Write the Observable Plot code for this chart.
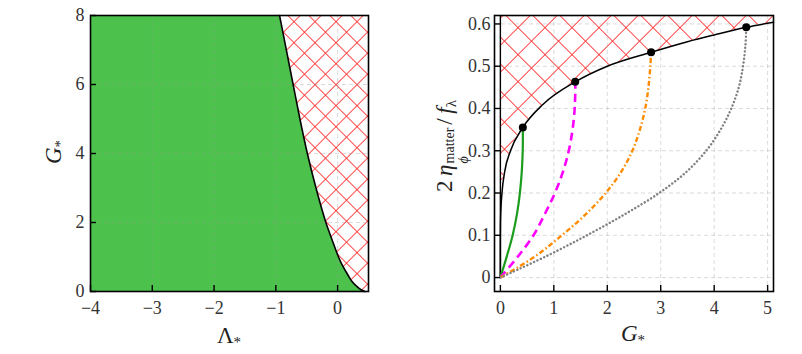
<!DOCTYPE html>
<html>
<head>
<meta charset="utf-8">
<script src="https://cdn.jsdelivr.net/npm/d3@7"></script>
<script src="https://cdn.jsdelivr.net/npm/@observablehq/plot@0.6"></script>
<style>
  body { margin: 0; background: #fff; }
  #wrap { position: relative; width: 802px; height: 354px; overflow: hidden; font-family: "Liberation Serif", serif; }
  .panel { position: absolute; top: 0; }
  .lab { position: absolute; font-family: "Liberation Serif", serif; font-size: 23px; color: #222; white-space: nowrap; line-height: 1; }
  .lab sub { font-size: 15px; vertical-align: -4px; }
  .ss { display: inline-flex; flex-direction: column; align-items: flex-start; font-size: 14px; line-height: 1; vertical-align: -2px; margin-left: 1px; margin-right: 3px; }
</style>
</head>
<body>
<div id="wrap">
  <div id="p1" class="panel" style="left:0px"></div>
  <div id="p2" class="panel" style="left:410px"></div>
  <div class="lab" style="left:55px;top:152px;transform:translate(-50%,-50%) rotate(-90deg)"><i>G</i><sub>*</sub></div>
  <div class="lab" style="left:229px;top:337px;transform:translate(-50%,-50%)">Λ<sub>*</sub></div>
  <div class="lab" style="left:633px;top:335px;transform:translate(-50%,-50%)"><i>G</i><sub>*</sub></div>
  <div class="lab" style="left:452px;top:146px;transform:translate(-50%,-50%) rotate(-90deg)">2&thinsp;<i>η</i><span class="ss"><span>matter</span><span style="font-style:italic">ϕ</span></span>/&thinsp;<i>f</i><sub>λ</sub></div>
</div>
<script>
// ---------- Left panel data ----------
const leftG      = [0, 0.05, 0.15, 0.3, 0.5, 0.75, 1, 1.5, 2, 3, 4, 5, 6, 7, 8];
const leftLambda = [0.44, 0.38, 0.31, 0.23, 0.16, 0.08, 0.014, -0.09, -0.19, -0.35, -0.49, -0.61, -0.72, -0.83, -0.94];
const leftXDomain = [-4, 0.5];
const leftYDomain = [0, 8];
const leftXTicks = [-4, -3, -2, -1, 0];
const leftYTicks = [0, 2, 4, 6, 8];
const leftXGrid = [-3, -2, -1, 0];
const leftYGrid = [2, 4, 6];

// ---------- Right panel data ----------
const boundG   = [0, 0.0005, 0.003, 0.01, 0.03, 0.08, 0.19, 0.42, 0.8, 1.4, 2.0, 2.82, 3.5, 4.0, 4.6, 5.11];
const boundEta = [0, 0.09, 0.13, 0.16, 0.2, 0.25, 0.3, 0.355, 0.41, 0.463, 0.5, 0.533, 0.558, 0.574, 0.592, 0.604];

const greenG   = [0, 0.12, 0.23, 0.31, 0.365, 0.4, 0.418, 0.42];
const greenEta = [0, 0.05, 0.1, 0.15, 0.2, 0.25, 0.3, 0.355];

const magentaG   = [0, 0.33, 0.62, 0.83, 1.02, 1.17, 1.28, 1.35, 1.39, 1.402, 1.4];
const magentaEta = [0, 0.05, 0.1, 0.15, 0.2, 0.25, 0.3, 0.35, 0.4, 0.45, 0.463];

const orangeG   = [0, 0.65, 1.15, 1.6, 1.97, 2.26, 2.47, 2.61, 2.71, 2.77, 2.805, 2.82];
const orangeEta = [0, 0.05, 0.1, 0.15, 0.2, 0.25, 0.3, 0.35, 0.4, 0.45, 0.5, 0.533];

const grayG   = [0, 0.85, 1.62, 2.33, 2.97, 3.48, 3.85, 4.12, 4.32, 4.46, 4.54, 4.585, 4.6];
const grayEta = [0, 0.05, 0.1, 0.15, 0.2, 0.25, 0.3, 0.35, 0.4, 0.45, 0.5, 0.55, 0.592];

const endG   = [0.42, 1.4, 2.82, 4.6];
const endEta = [0.355, 0.463, 0.533, 0.592];

const rightXDomain = [-0.11, 5.11];
const rightYDomain = [-0.033, 0.62];
const rightXTicks = [0, 1, 2, 3, 4, 5];
const rightYTicks = [0, 0.1, 0.2, 0.3, 0.4, 0.5, 0.6];
const edgeG = [0];

// ---------- build tables ----------
const leftData = leftG.map((g, i) => ({G: g, L: leftLambda[i]}));
const zip = (xs, ys) => xs.map((x, i) => ({G: x, eta: ys[i]}));
const boundary = zip(boundG, boundEta);
const series = [
  {data: zip(greenG, greenEta), stroke: "#1c9c1c", width: 2.2, dash: null, cap: "butt"},
  {data: zip(magentaG, magentaEta), stroke: "#ff00ff", width: 2.6, dash: "8,5", cap: "butt"},
  {data: zip(orangeG, orangeEta), stroke: "#ff8c00", width: 2.4, dash: "5,2.5,1.5,2.5", cap: "butt"},
  {data: zip(grayG, grayEta), stroke: "#808080", width: 2.4, dash: "0.1,3.6", cap: "round"}
];
const endpoints = zip(endG, endEta);

const style = {fontFamily: "Liberation Serif, serif", fontSize: "18px", color: "#333", background: "transparent", overflow: "visible"};
const gridStyle = {stroke: "#999", strokeOpacity: 0.35, strokeDasharray: "4,3", strokeWidth: 1};

// crosshatch: a square grid of thin red bars rotated by 45 degrees
function addHatch(svg, id, period) {
  const d = period / Math.SQRT2;
  const defs = d3.select(svg).insert("defs", ":first-child");
  const p = defs.append("pattern").attr("id", id).attr("width", d).attr("height", d)
    .attr("patternUnits", "userSpaceOnUse").attr("patternTransform", "rotate(45)");
  p.append("rect").attr("x", 0).attr("y", 0).attr("width", d).attr("height", 0.9).attr("fill", "#ff3333");
  p.append("rect").attr("x", 0).attr("y", 0).attr("width", 0.9).attr("height", d).attr("fill", "#ff3333");
}

const left = Plot.plot({
  width: 410, height: 354,
  marginLeft: 90, marginRight: 42, marginTop: 15, marginBottom: 63,
  style,
  x: {domain: leftXDomain},
  y: {domain: leftYDomain},
  marks: [
    Plot.areaX(leftData, {y: "G", x1: leftXDomain[0], x2: "L", fill: "#4cc24c", curve: "catmull-rom"}),
    Plot.areaX(leftData, {y: "G", x1: "L", x2: leftXDomain[1], fill: "url(#hatchL)", curve: "catmull-rom"}),
    Plot.gridX(leftXGrid, gridStyle),
    Plot.gridY(leftYGrid, gridStyle),
    Plot.line(leftData, {x: "L", y: "G", stroke: "black", strokeWidth: 1.6, curve: "catmull-rom"}),
    Plot.frame({stroke: "black", strokeWidth: 1.6}),
    Plot.axisX(leftXTicks, {tickSize: -6, tickPadding: 16, label: null, stroke: "black", strokeWidth: 1.4}),
    Plot.axisY(leftYTicks, {tickSize: -6, tickPadding: 12, label: null, stroke: "black", strokeWidth: 1.4})
  ]
});
addHatch(left, "hatchL", 21);
document.getElementById("p1").appendChild(left);

const right = Plot.plot({
  width: 392, height: 354,
  marginLeft: 84, marginRight: 29, marginTop: 15, marginBottom: 63,
  style,
  x: {domain: rightXDomain},
  y: {domain: rightYDomain},
  marks: [
    Plot.areaY(boundary, {x: "G", y1: "eta", y2: rightYDomain[1], fill: "url(#hatchR)", curve: "monotone-x"}),
    Plot.gridX(rightXTicks.slice(1), gridStyle),
    Plot.gridY(rightYTicks, gridStyle),
    Plot.ruleX(edgeG, {y1: 0, y2: rightYDomain[1], stroke: "black", strokeWidth: 1.4}),
    Plot.line(boundary, {x: "G", y: "eta", stroke: "black", strokeWidth: 1.5, curve: "monotone-x"}),
    ...series.map(s => Plot.line(s.data, {x: "G", y: "eta", stroke: s.stroke, strokeWidth: s.width, strokeDasharray: s.dash, strokeLinecap: s.cap, curve: "catmull-rom"})),
    Plot.dot(endpoints, {x: "G", y: "eta", r: 4, fill: "black", stroke: null}),
    Plot.frame({stroke: "black", strokeWidth: 1.6}),
    Plot.axisX(rightXTicks, {tickSize: -6, tickPadding: 16, label: null, stroke: "black", strokeWidth: 1.4}),
    Plot.axisY(rightYTicks, {tickSize: -6, tickPadding: 10, label: null, stroke: "black", strokeWidth: 1.4, tickFormat: d => d === 0 ? "0" : d3.format(".1f")(d)})
  ]
});
addHatch(right, "hatchR", 27);
document.getElementById("p2").appendChild(right);
</script>
</body>
</html>
